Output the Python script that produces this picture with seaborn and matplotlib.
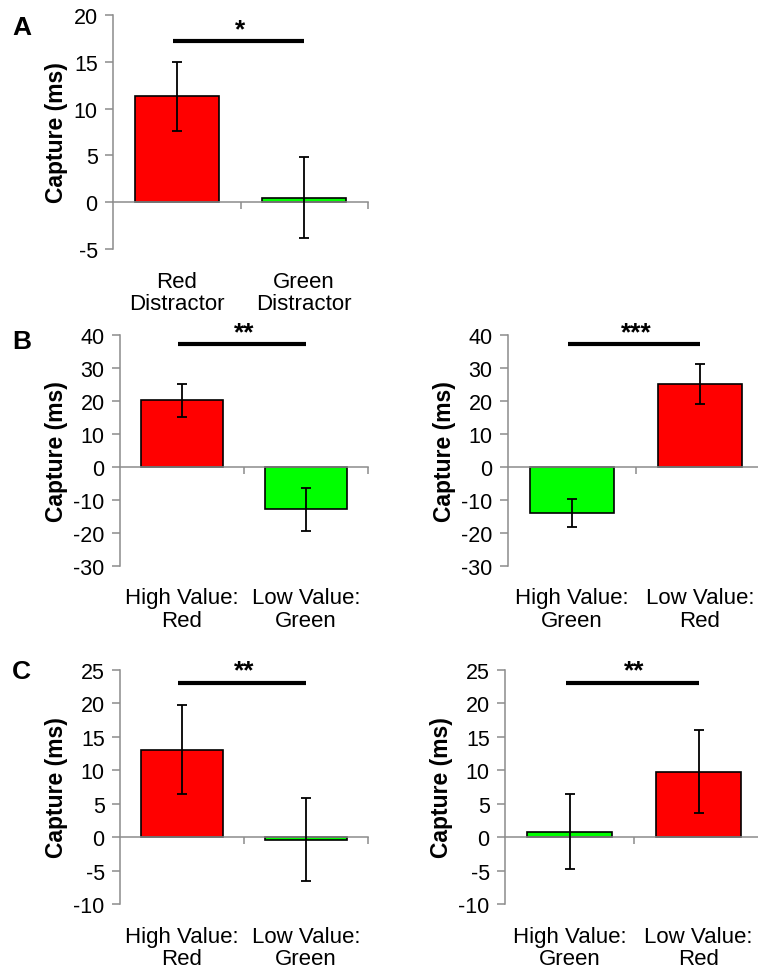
import numpy as np
import pandas as pd
import seaborn as sns
import matplotlib.pyplot as plt
from matplotlib.transforms import blended_transform_factory, offset_copy

# panel A
a_labels = ["Red\nDistractor", "Green\nDistractor"]
a_means = [11.3, 0.5]
a_sems = [3.7, 4.3]
a_colors = ["#ff0000", "#00ff00"]

# panel B
b_left_labels = ["High Value:\nRed", "Low Value:\nGreen"]
b_left_means = [20.2, -12.8]
b_left_sems = [5.1, 6.5]
b_left_colors = ["#ff0000", "#00ff00"]

b_right_labels = ["High Value:\nGreen", "Low Value:\nRed"]
b_right_means = [-13.9, 25.1]
b_right_sems = [4.3, 6.0]
b_right_colors = ["#00ff00", "#ff0000"]

# panel C
c_left_labels = ["High Value:\nRed", "Low Value:\nGreen"]
c_left_means = [13.1, -0.4]
c_left_sems = [6.6, 6.2]
c_left_colors = ["#ff0000", "#00ff00"]

c_right_labels = ["High Value:\nGreen", "Low Value:\nRed"]
c_right_means = [0.8, 9.8]
c_right_sems = [5.6, 6.2]
c_right_colors = ["#00ff00", "#ff0000"]

sig_marks = ["*", "**", "***", "**", "**"]
sig_heights = [17.2, 37.3, 37.3, 23.1, 23.1]

sns.set_style("white")
plt.rcParams['font.family'] = ['Liberation Sans', 'DejaVu Sans']
plt.rcParams['text.color'] = 'black'
plt.rcParams['xtick.labelcolor'] = 'black'
plt.rcParams['ytick.labelcolor'] = 'black'
plt.rcParams['axes.labelcolor'] = 'black'

AXIS_GREY = "#8c8c8c"
TICK_FS = 15.5
LABEL_FS = 16


def bar_panel(ax, labels, means, sems, colors, yticks, sig, sig_y):
    df = pd.DataFrame({"cond": labels, "capture": means})
    sns.barplot(df, x="cond", y="capture", hue="cond", palette=colors,
                order=labels, hue_order=labels, legend=False, errorbar=None,
                width=0.66, edgecolor="black", linewidth=1.2, ax=ax,
                saturation=1)
    ax.errorbar(np.arange(len(labels)), means, yerr=sems, fmt="none",
                ecolor="black", elinewidth=1.3, capsize=3.8, capthick=1.3,
                zorder=5)
    ax.set_xlim(-0.5, len(labels) - 0.5)
    ax.set_ylim(yticks[0], yticks[-1])
    ax.set_yticks(yticks)
    ax.set_yticklabels([str(t) for t in yticks])

    for side in ["top", "right"]:
        ax.spines[side].set_visible(False)
    ax.spines["bottom"].set_position(("data", 0))
    for side in ["left", "bottom"]:
        ax.spines[side].set_color(AXIS_GREY)
        ax.spines[side].set_linewidth(1.1)

    ax.set_xticks([0.5, 1.5])
    ax.set_xticklabels([])
    ax.set_xlabel("")
    ax.tick_params(axis="x", direction="out", length=5, width=1.1,
                   color=AXIS_GREY, bottom=True)
    ax.tick_params(axis="y", direction="out", length=6, width=1.1,
                   color=AXIS_GREY, left=True, labelsize=TICK_FS, pad=5)
    ax.set_ylabel("Capture (ms)", fontsize=16.5, fontweight="bold", labelpad=4)

    trans = blended_transform_factory(ax.transData, ax.transAxes)
    for i, lab in enumerate(labels):
        ax.text(i, -0.092, lab, transform=trans, ha="center", va="top",
                fontsize=LABEL_FS, linespacing=1.12)

    ax.plot([-0.03, 1], [sig_y, sig_y], color="black", lw=3, clip_on=False,
            solid_capstyle="butt")
    star_tr = offset_copy(ax.transData, fig=ax.figure, x=0, y=0, units="points")
    ax.text(0.5, sig_y, sig, transform=star_tr, ha="center", va="bottom",
            fontsize=19, fontweight="bold", clip_on=False)


fig = plt.figure(figsize=(7.58, 9.70), dpi=100)
W, H = 758, 970


def add_axes(left, right, top, bottom):
    return fig.add_axes([left / W, 1 - bottom / H, (right - left) / W, (bottom - top) / H])


ax_a = add_axes(113, 368, 16, 250)
ax_bl = add_axes(120, 368, 336, 567)
ax_br = add_axes(508, 764, 336, 567)
ax_cl = add_axes(120, 368, 671, 905)
ax_cr = add_axes(505, 763, 671, 905)

bar_panel(ax_a, a_labels, a_means, a_sems, a_colors, list(range(-5, 21, 5)),
          sig_marks[0], sig_heights[0])
bar_panel(ax_bl, b_left_labels, b_left_means, b_left_sems, b_left_colors,
          list(range(-30, 41, 10)), sig_marks[1], sig_heights[1])
bar_panel(ax_br, b_right_labels, b_right_means, b_right_sems, b_right_colors,
          list(range(-30, 41, 10)), sig_marks[2], sig_heights[2])
bar_panel(ax_cl, c_left_labels, c_left_means, c_left_sems, c_left_colors,
          list(range(-10, 26, 5)), sig_marks[3], sig_heights[3])
bar_panel(ax_cr, c_right_labels, c_right_means, c_right_sems, c_right_colors,
          list(range(-10, 26, 5)), sig_marks[4], sig_heights[4])

for letter, ypix in [("A", 28), ("B", 342), ("C", 672)]:
    fig.text(12 / W, 1 - ypix / H, letter, fontsize=19, fontweight="bold",
             ha="left", va="center")

fig.savefig("out.png", dpi=100)
